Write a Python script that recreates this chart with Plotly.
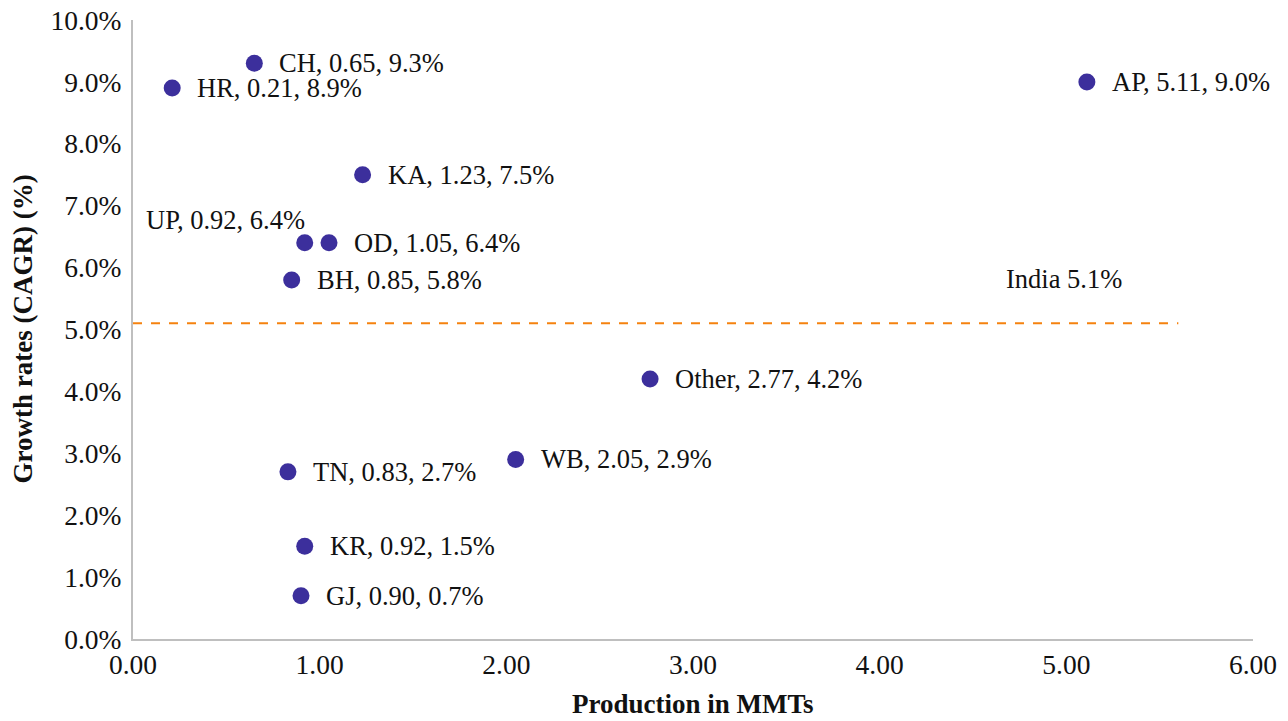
import plotly.graph_objects as go

# State-wise production (MMT) and growth rate (CAGR, %)
states = ["CH", "HR", "AP", "KA", "UP", "OD", "BH", "Other", "WB", "TN", "KR", "GJ"]
production = [0.65, 0.21, 5.11, 1.23, 0.92, 1.05, 0.85, 2.77, 2.05, 0.83, 0.92, 0.90]
cagr = [9.3, 8.9, 9.0, 7.5, 6.4, 6.4, 5.8, 4.2, 2.9, 2.7, 1.5, 0.7]

india_cagr = 5.1
india_line_end = 5.6

y_ticks = [0, 1, 2, 3, 4, 5, 6, 7, 8, 9, 10]
x_ticks = [0, 1, 2, 3, 4, 5, 6]

FONT = "Liberation Serif, Times New Roman, serif"
MARKER = "#3C2F9C"
TEXT = "#111111"
LABEL_SIZE = 26.5
TICK_SIZE = 27.5

fig = go.Figure()

fig.add_trace(go.Scatter(
    x=[0, india_line_end], y=[india_cagr, india_cagr],
    mode="lines",
    line=dict(color="#F5820F", width=2, dash="dash"),
    hoverinfo="skip", showlegend=False,
))

fig.add_trace(go.Scatter(
    x=production, y=cagr, mode="markers",
    marker=dict(color=MARKER, size=17),
    showlegend=False,
))

for s, p, c in zip(states, production, cagr):
    label = f"{s}, {p:.2f}, {c:.1f}%"
    if s == "UP":
        fig.add_annotation(x=p, y=c, text=label, showarrow=False,
                           xanchor="right", yanchor="middle",
                           xshift=2, yshift=23,
                           font=dict(family=FONT, size=LABEL_SIZE, color=TEXT))
    else:
        fig.add_annotation(x=p, y=c, text=label, showarrow=False,
                           xanchor="left", yanchor="middle",
                           xshift=23, yshift=0,
                           font=dict(family=FONT, size=LABEL_SIZE, color=TEXT))

fig.add_annotation(x=india_line_end, y=india_cagr, text=f"India {india_cagr:.1f}%",
                   showarrow=False, xanchor="right", yanchor="middle",
                   xshift=-54, yshift=44,
                   font=dict(family=FONT, size=LABEL_SIZE, color=TEXT))

# Axis titles
fig.add_annotation(xref="paper", yref="paper", x=0.5, y=-0.105,
                   text="<b>Production in MMTs</b>", showarrow=False,
                   xanchor="center", yanchor="middle",
                   font=dict(family=FONT, size=27, color=TEXT))
fig.add_annotation(xref="paper", yref="paper", x=-0.0991, y=0.5,
                   text="<b>Growth rates (CAGR) (%)</b>", showarrow=False,
                   textangle=-90, xanchor="center", yanchor="middle",
                   font=dict(family=FONT, size=27, color=TEXT))

fig.update_layout(
    width=1288, height=721,
    margin=dict(l=133, r=35, t=20, b=82),
    paper_bgcolor="white", plot_bgcolor="white",
    font=dict(family=FONT, size=TICK_SIZE, color=TEXT),
    xaxis=dict(
        range=[0, 6], tickvals=x_ticks,
        ticktext=[f"{v:.2f}" for v in x_ticks],
        showgrid=False, zeroline=False, automargin=False,
        showline=True, linecolor="#BFBFBF", linewidth=2,
        ticks="", ticklen=0,
        tickfont=dict(family=FONT, size=TICK_SIZE, color=TEXT),
    ),
    yaxis=dict(
        range=[0, 10], tickvals=y_ticks,
        ticktext=[f"{v:.1f}%" for v in y_ticks],
        showgrid=False, zeroline=False, automargin=False,
        showline=True, linecolor="#BFBFBF", linewidth=2,
        ticks="outside", ticklen=4, tickcolor="rgba(0,0,0,0)",
        tickfont=dict(family=FONT, size=TICK_SIZE, color=TEXT),
    ),
)

fig.write_html("out.html")
